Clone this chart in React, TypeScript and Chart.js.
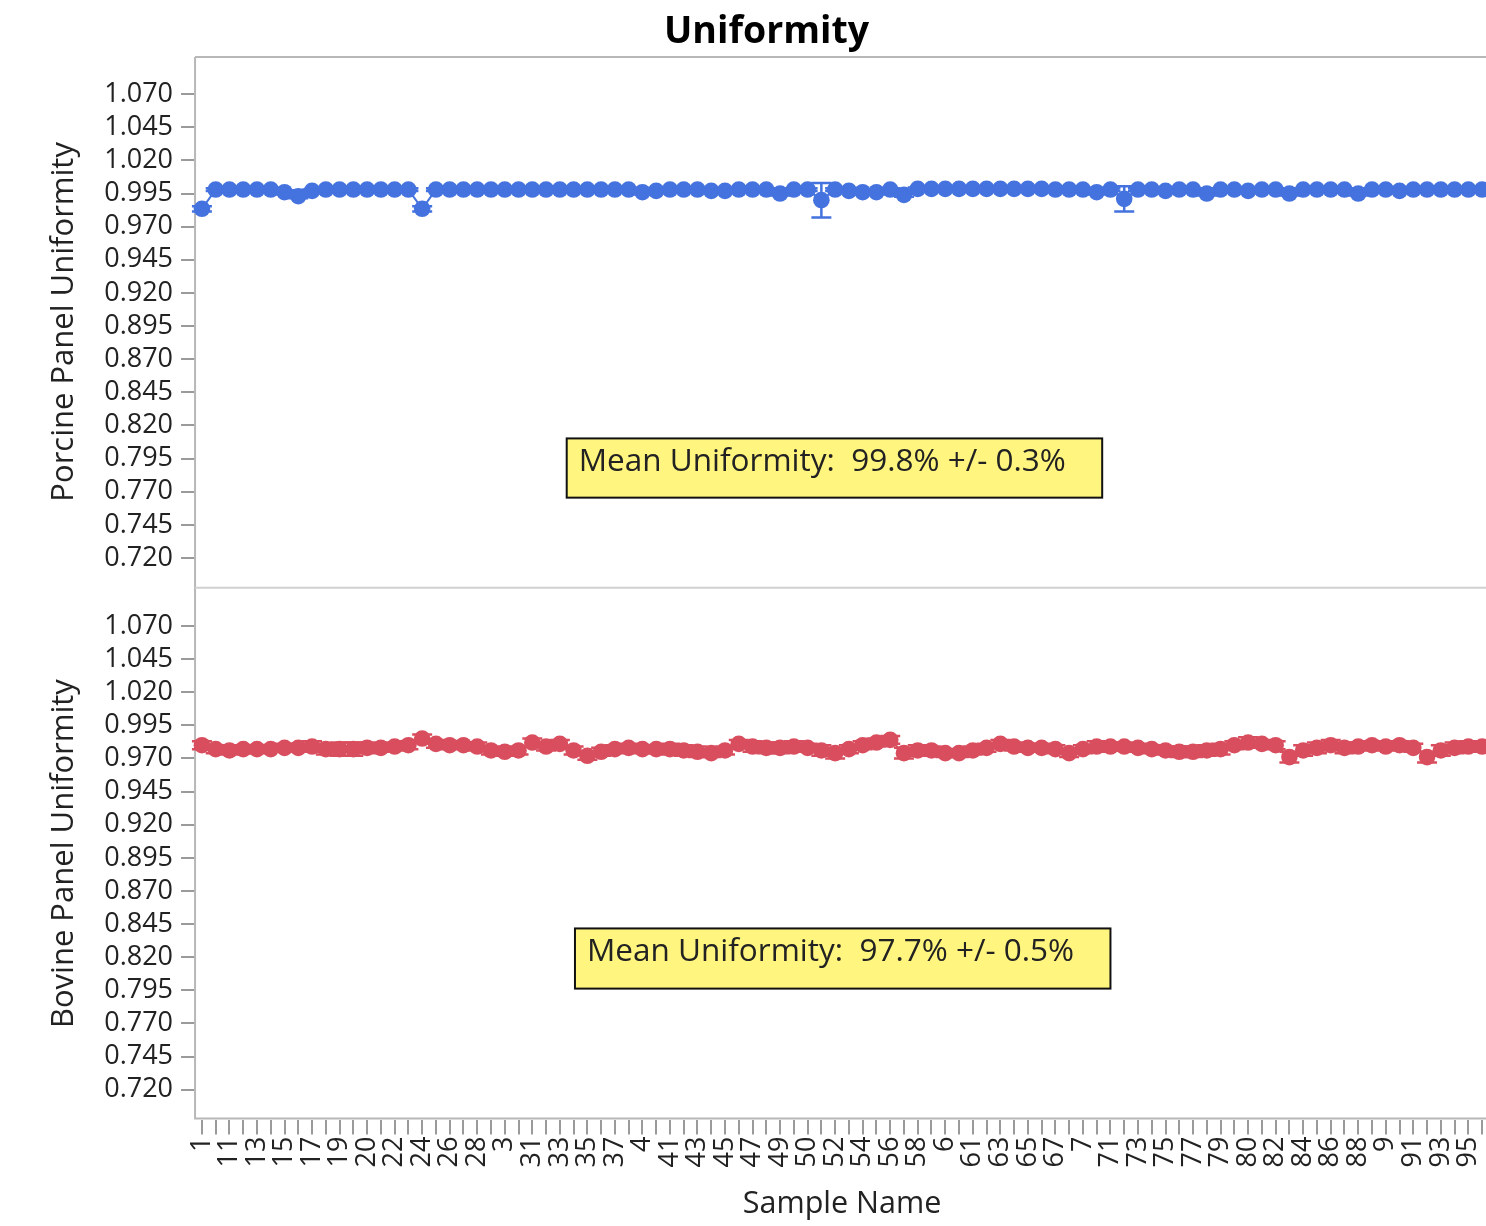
import React, { useEffect, useRef } from 'react';
import { Chart, registerables } from 'chart.js';

Chart.register(...registerables);

// ---------- data ----------
const sampleNames: string[] = [
  '1', '10', '11', '12', '13', '14', '15', '16', '17', '18', '19',
  '2', '20', '21', '22', '23', '24', '25', '26', '27', '28', '29',
  '3', '30', '31', '32', '33', '34', '35', '36', '37', '39',
  '4', '40', '41', '42', '43', '44', '45', '46', '47', '48', '49',
  '5', '50', '51', '52', '53', '54', '55', '56', '57', '58', '59',
  '6', '60', '61', '62', '63', '64', '65', '66', '67', '69',
  '7', '70', '71', '72', '73', '74', '75', '76', '77', '78', '79',
  '8', '80', '81', '82', '83', '84', '85', '86', '87', '88', '89',
  '9', '90', '91', '92', '93', '94', '95', '96',
];

const porcineMean: number[] = [
  0.9835, 0.998, 0.998, 0.998, 0.998, 0.998, 0.996, 0.993, 0.997, 0.998, 0.998,
  0.998, 0.998, 0.998, 0.998, 0.998, 0.9835, 0.998, 0.998, 0.998, 0.998, 0.998,
  0.998, 0.998, 0.998, 0.998, 0.998, 0.998, 0.998, 0.998, 0.998, 0.998,
  0.996, 0.997, 0.998, 0.998, 0.998, 0.997, 0.997, 0.998, 0.998, 0.998, 0.995,
  0.998, 0.998, 0.990, 0.998, 0.997, 0.996, 0.996, 0.998, 0.994, 0.9985, 0.9985,
  0.9985, 0.9985, 0.9985, 0.9985, 0.9985, 0.9985, 0.9985, 0.9985, 0.998, 0.998,
  0.998, 0.996, 0.998, 0.991, 0.998, 0.998, 0.997, 0.998, 0.998, 0.995, 0.998,
  0.998, 0.997, 0.998, 0.998, 0.995, 0.998, 0.998, 0.998, 0.998, 0.995, 0.998,
  0.998, 0.997, 0.998, 0.998, 0.998, 0.998, 0.998, 0.998,
];

const porcineErr: number[] = [
  0.002, 0.001, 0.001, 0.001, 0.001, 0.001, 0.0015, 0.0015, 0.001, 0.001, 0.001,
  0.001, 0.001, 0.001, 0.001, 0.001, 0.002, 0.001, 0.001, 0.001, 0.001, 0.001,
  0.001, 0.001, 0.001, 0.001, 0.001, 0.001, 0.001, 0.001, 0.001, 0.001,
  0.0015, 0.001, 0.001, 0.001, 0.001, 0.001, 0.001, 0.001, 0.001, 0.001, 0.0015,
  0.001, 0.001, 0.013, 0.001, 0.001, 0.0015, 0.0015, 0.001, 0.0015, 0.001, 0.001,
  0.001, 0.001, 0.001, 0.001, 0.001, 0.001, 0.001, 0.001, 0.001, 0.001,
  0.001, 0.0015, 0.001, 0.0095, 0.001, 0.001, 0.001, 0.001, 0.001, 0.0015, 0.001,
  0.001, 0.001, 0.001, 0.001, 0.0015, 0.001, 0.001, 0.001, 0.001, 0.0015, 0.001,
  0.001, 0.001, 0.001, 0.001, 0.001, 0.001, 0.001, 0.001,
];

const bovineMean: number[] = [
  0.980, 0.977, 0.976, 0.977, 0.977, 0.977, 0.978, 0.978, 0.979, 0.977, 0.977,
  0.977, 0.978, 0.978, 0.979, 0.980, 0.985, 0.981, 0.980, 0.980, 0.979, 0.976,
  0.975, 0.976, 0.982, 0.979, 0.981, 0.976, 0.972, 0.975, 0.977, 0.978,
  0.977, 0.977, 0.977, 0.976, 0.975, 0.974, 0.976, 0.981, 0.979, 0.978, 0.978,
  0.979, 0.978, 0.976, 0.974, 0.977, 0.980, 0.982, 0.984, 0.974, 0.976, 0.976,
  0.974, 0.974, 0.976, 0.978, 0.981, 0.979, 0.978, 0.978, 0.977, 0.974,
  0.977, 0.979, 0.979, 0.979, 0.978, 0.977, 0.976, 0.975, 0.975, 0.976, 0.977,
  0.980, 0.982, 0.981, 0.980, 0.971, 0.976, 0.978, 0.980, 0.978, 0.979, 0.980,
  0.979, 0.980, 0.978, 0.971, 0.976, 0.978, 0.979, 0.979,
];

const bovineErr: number[] = [
  0.003, 0.003, 0.003, 0.003, 0.003, 0.002, 0.003, 0.003, 0.004, 0.004, 0.005,
  0.005, 0.004, 0.003, 0.003, 0.003, 0.003, 0.003, 0.003, 0.002, 0.003, 0.003,
  0.003, 0.003, 0.003, 0.003, 0.003, 0.003, 0.003, 0.003, 0.003, 0.003,
  0.003, 0.003, 0.004, 0.004, 0.004, 0.003, 0.003, 0.003, 0.004, 0.004, 0.004,
  0.004, 0.003, 0.004, 0.004, 0.003, 0.003, 0.003, 0.003, 0.004, 0.004, 0.003,
  0.003, 0.003, 0.003, 0.003, 0.003, 0.003, 0.003, 0.003, 0.003, 0.003,
  0.003, 0.004, 0.003, 0.003, 0.003, 0.003, 0.003, 0.004, 0.004, 0.004, 0.004,
  0.003, 0.004, 0.003, 0.003, 0.004, 0.004, 0.004, 0.004, 0.004, 0.003, 0.003,
  0.003, 0.003, 0.003, 0.004, 0.004, 0.004, 0.004, 0.004,
];

const yTickValues: number[] = [
  0.72, 0.745, 0.77, 0.795, 0.82, 0.845, 0.87, 0.895, 0.92, 0.945, 0.97, 0.995, 1.02, 1.045, 1.07,
];

const chartTitle = 'Uniformity';
const porcineAxisTitle = 'Porcine Panel Uniformity';
const bovineAxisTitle = 'Bovine Panel Uniformity';
const xAxisTitle = 'Sample Name';
const porcineNote = 'Mean Uniformity:  99.8% +/- 0.3%';
const bovineNote = 'Mean Uniformity:  97.7% +/- 0.5%';

// ---------- styles ----------
const FONT = '"Open Sans", "Noto Sans", sans-serif';
const BLUE = '#4472DE';
const RED = '#D94E5E';
const FRAME = '#B8B8B8';
const TICKC = '#9A9A9A';
const TEXTC = '#222222';
const CANVAS_W = 1522;
const CANVAS_H = 1226;

const Y_MIN = 0.6975;
const Y_MAX = 1.0988;

const panelFramePlugin = {
  id: 'panelFrames',
  beforeDatasetsDraw(chart: any) {
    const { ctx, chartArea } = chart;
    const top = chart.scales.yTop;
    const bot = chart.scales.yBot;
    ctx.save();
    ctx.strokeStyle = FRAME;
    ctx.lineWidth = 2;
    ctx.beginPath();
    ctx.moveTo(chartArea.left, chartArea.top + 1);
    ctx.lineTo(chartArea.left, chartArea.bottom);
    ctx.moveTo(chartArea.left, chartArea.top + 1);
    ctx.lineTo(chartArea.right, chartArea.top + 1);
    ctx.moveTo(chartArea.left, chartArea.bottom - 1);
    ctx.lineTo(chartArea.right, chartArea.bottom - 1);
    ctx.moveTo(chartArea.right - 1, chartArea.top);
    ctx.lineTo(chartArea.right - 1, chartArea.bottom);
    ctx.stroke();
    ctx.strokeStyle = '#D0D0D0';
    ctx.beginPath();
    const sep = (top.bottom + bot.top) / 2;
    ctx.moveTo(chartArea.left, sep);
    ctx.lineTo(chartArea.right, sep);
    ctx.stroke();
    ctx.restore();
  },
};

const errorBarPlugin = {
  id: 'errorBars',
  afterDatasetsDraw(chart: any) {
    const { ctx } = chart;
    const xs = chart.scales.x;
    chart.data.datasets.forEach((ds: any) => {
      const ys = chart.scales[ds.yAxisID];
      const errs: number[] = ds.errors || [];
      ctx.save();
      ctx.strokeStyle = ds.borderColor;
      ctx.lineWidth = 2.5;
      const cap = 10;
      ds.data.forEach((v: number, i: number) => {
        const e = errs[i] || 0;
        const x = xs.getPixelForValue(i);
        const y1 = ys.getPixelForValue(v - e);
        const y2 = ys.getPixelForValue(v + e);
        ctx.beginPath();
        ctx.moveTo(x, y1);
        ctx.lineTo(x, y2);
        ctx.moveTo(x - cap, y1);
        ctx.lineTo(x + cap, y1);
        ctx.moveTo(x - cap, y2);
        ctx.lineTo(x + cap, y2);
        ctx.stroke();
      });
      ctx.restore();
    });
  },
};

const notes = [
  { axis: 'yTop', text: porcineNote, x0: 26.5, x1: 65.4, yTop: 0.8102, yBottom: 0.7655 },
  { axis: 'yBot', text: bovineNote, x0: 27.1, x1: 66.0, yTop: 0.8417, yBottom: 0.7963 },
];

const notePlugin = {
  id: 'notes',
  afterDatasetsDraw(chart: any) {
    const { ctx } = chart;
    const xs = chart.scales.x;
    notes.forEach((n) => {
      const ys = chart.scales[n.axis];
      const l = xs.getPixelForValue(n.x0);
      const r = xs.getPixelForValue(n.x1);
      const t = ys.getPixelForValue(n.yTop);
      const b = ys.getPixelForValue(n.yBottom);
      ctx.save();
      ctx.fillStyle = '#FFF57F';
      ctx.fillRect(l, t, r - l, b - t);
      ctx.strokeStyle = '#111111';
      ctx.lineWidth = 2;
      ctx.strokeRect(l, t, r - l, b - t);
      ctx.fillStyle = TEXTC;
      ctx.font = `31.5px ${FONT}`;
      ctx.textBaseline = 'middle';
      ctx.textAlign = 'left';
      ctx.fillText(n.text, l + 12, t + (b - t) * 0.4);
      ctx.restore();
    });
  },
};

function yScale(title: string) {
  return {
    type: 'linear' as const,
    position: 'left' as const,
    stack: 'panels',
    stackWeight: 1,
    min: Y_MIN,
    max: Y_MAX,
    afterBuildTicks: (axis: any) => {
      axis.ticks = yTickValues.map((v) => ({ value: v }));
    },
    ticks: {
      autoSkip: false,
      color: TEXTC,
      font: { family: FONT, size: 27 },
      padding: 8,
      callback: (v: any) => Number(v).toFixed(3),
    },
    grid: { drawOnChartArea: false, drawTicks: true, tickLength: 14, color: TICKC, lineWidth: 2 },
    border: { display: false },
    title: {
      display: true,
      text: title,
      color: TEXTC,
      font: { family: FONT, size: 31 },
      padding: { top: 2, bottom: 13 },
    },
  };
}

export default function App() {
  const ref = useRef<HTMLCanvasElement | null>(null);

  useEffect(() => {
    if (!ref.current) return;
    const chart = new Chart(ref.current, {
      type: 'line',
      data: {
        labels: sampleNames,
        datasets: [
          {
            label: 'Porcine',
            data: porcineMean,
            errors: porcineErr,
            yAxisID: 'yTop',
            borderColor: BLUE,
            backgroundColor: BLUE,
            borderWidth: 2,
            pointRadius: 8.3,
            pointBorderWidth: 0,
            pointHoverRadius: 8.3,
          } as any,
          {
            label: 'Bovine',
            data: bovineMean,
            errors: bovineErr,
            yAxisID: 'yBot',
            borderColor: RED,
            backgroundColor: RED,
            borderWidth: 2,
            pointRadius: 8.3,
            pointBorderWidth: 0,
            pointHoverRadius: 8.3,
          } as any,
        ],
      },
      options: {
        responsive: false,
        animation: false,
        devicePixelRatio: 1,
        layout: { padding: { left: 44, right: 33, top: 0, bottom: 0 } },
        plugins: {
          legend: { display: false },
          tooltip: { enabled: false },
          title: {
            display: true,
            text: chartTitle,
            color: '#000000',
            font: { family: FONT, size: 37.5, weight: 'bold' },
            padding: { top: 10, bottom: 1 },
          },
        },
        scales: {
          x: {
            type: 'category',
            offset: true,
            ticks: {
              autoSkip: false,
              minRotation: 90,
              maxRotation: 90,
              color: TEXTC,
              font: { family: FONT, size: 27 },
              padding: 2,
              callback: (_v: any, i: number) => (i % 2 === 0 ? sampleNames[i] : ''),
            },
            grid: { drawOnChartArea: false, drawTicks: true, tickLength: 15, color: TICKC, lineWidth: 2 },
            border: { display: false },
            title: {
              display: true,
              text: xAxisTitle,
              color: TEXTC,
              font: { family: FONT, size: 30.5 },
              padding: { top: 17, bottom: 3 },
            },
          },
          yBot: yScale(bovineAxisTitle),
          yTop: yScale(porcineAxisTitle),
        } as any,
      },
      plugins: [panelFramePlugin, errorBarPlugin, notePlugin],
    } as any);
    return () => chart.destroy();
  }, []);

  return (
    <div
      style={{
        position: 'fixed',
        left: 0,
        top: 0,
        width: 1486,
        height: 1226,
        overflow: 'hidden',
        background: '#ffffff',
      }}
    >
      <canvas ref={ref} width={CANVAS_W} height={CANVAS_H} style={{ width: CANVAS_W, height: CANVAS_H, display: 'block' }} />
    </div>
  );
}
